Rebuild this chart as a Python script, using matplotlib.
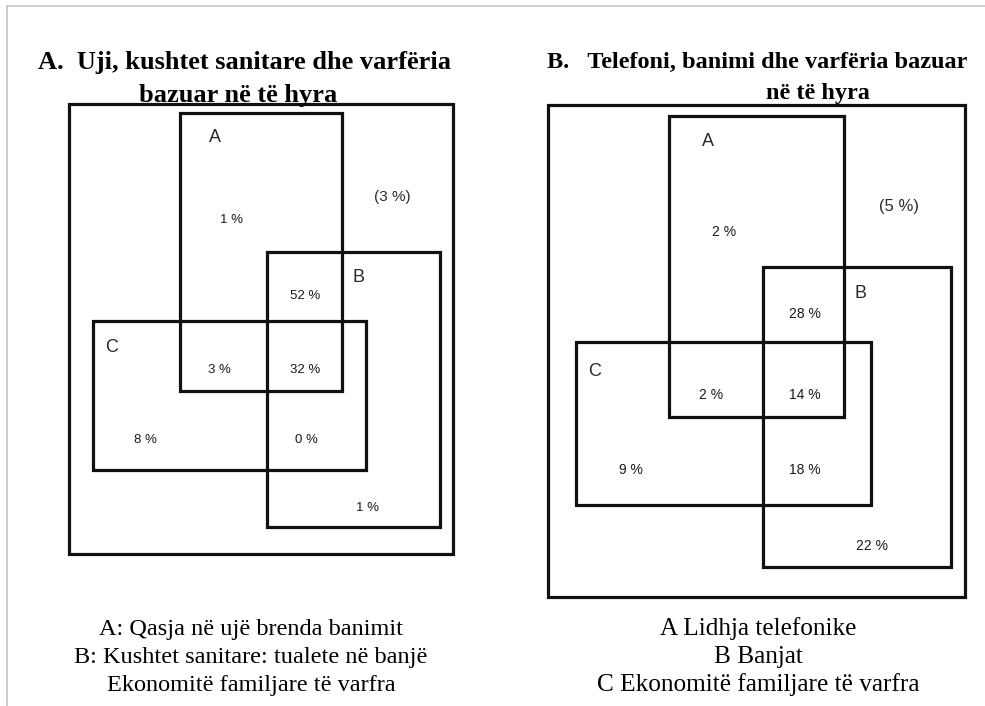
import matplotlib
matplotlib.use("Agg")
import matplotlib.pyplot as plt
from matplotlib.patches import Rectangle

# regions: A only, A&B, A&C, A&B&C, C only, B&C, B only, none of them
regions = ["A", "AB", "AC", "ABC", "C", "BC", "B", "none"]
pct_uji = [1, 52, 3, 32, 8, 0, 1, 3]
pct_tel = [2, 28, 2, 14, 9, 18, 22, 5]

titles_uji = ["A.  Uji, kushtet sanitare dhe varfëria", "bazuar në të hyra"]
titles_tel = ["B.   Telefoni, banimi dhe varfëria bazuar", "në të hyra"]

legend_uji = ["A: Qasja në ujë brenda banimit",
              "B: Kushtet sanitare: tualete në banjë",
              "Ekonomitë familjare të varfra"]
legend_tel = ["A Lidhja telefonike",
              "B Banjat",
              "C Ekonomitë familjare të varfra"]

# layout in pixels (x0, y0, x1, y1), top-left origin
panels = [
    dict(outer=(69, 104, 453, 554),
         boxes={"A": (180, 113, 342, 391), "B": (267, 252, 440, 527), "C": (93, 321, 366, 470)},
         letters={"A": (215, 137), "B": (358, 277), "C": (112, 348)},
         spots={"A": (232, 220), "AB": (305, 296), "AC": (219, 370), "ABC": (305, 370),
                "C": (145, 440), "BC": (306, 440), "B": (367, 508), "none": (392, 197)},
         pct=pct_uji, fs=9.5, fs_out=11,
         titles=titles_uji, title_pos=[(244, 69), (238, 102)], title_fs=19,
         legend=legend_uji, legend_x=251, legend_fs=17.5),
    dict(outer=(548, 105, 965, 597),
         boxes={"A": (669, 116, 844, 417), "B": (763, 267, 951, 567), "C": (576, 342, 871, 505)},
         letters={"A": (708, 142), "B": (861, 293), "C": (595, 372)},
         spots={"A": (724, 232), "AB": (805, 314), "AC": (711, 395), "ABC": (805, 395),
                "C": (631, 470), "BC": (805, 470), "B": (872, 546), "none": (899, 207)},
         pct=pct_tel, fs=10, fs_out=12,
         titles=titles_tel, title_pos=[(757, 68), (818, 99)], title_fs=17.5,
         legend=legend_tel, legend_x=758, legend_fs=18.2),
]
legend_baselines = [635, 663, 691]

fig = plt.figure(figsize=(9.85, 7.06), dpi=100)
ax = fig.add_axes([0, 0, 1, 1])
ax.set_xlim(0, 985)
ax.set_ylim(706, 0)
ax.axis("off")

# light page frame
ax.plot([7, 985], [6, 6], color="#c4c4c4", lw=1.2)
ax.plot([7, 7], [6, 706], color="#c4c4c4", lw=1.2)


def rect(r, lw=2.3):
    x0, y0, x1, y1 = r
    ax.add_patch(Rectangle((x0, y0), x1 - x0, y1 - y0, fill=False,
                           ec="#111111", lw=lw, joinstyle="miter"))


for p in panels:
    rect(p["outer"])
    for k, r in p["boxes"].items():
        rect(r)
    for k, (x, y) in p["letters"].items():
        ax.text(x, y, k, ha="center", va="center", fontsize=13,
                family="Liberation Sans", color="#2a2a2a")
    for reg, v in zip(regions, p["pct"]):
        x, y = p["spots"][reg]
        if reg == "none":
            ax.text(x, y, f"({v} %)", ha="center", va="center", fontsize=p["fs_out"],
                    family="Liberation Sans", color="#2a2a2a")
        else:
            ax.text(x, y, f"{v} %", ha="center", va="center", fontsize=p["fs"],
                    family="Liberation Sans", color="#1a1a1a")
    for t, (x, y) in zip(p["titles"], p["title_pos"]):
        ax.text(x, y, t, ha="center", va="baseline", fontsize=p["title_fs"],
                family="Liberation Serif", fontweight="bold", color="black")
    for t, y in zip(p["legend"], legend_baselines):
        ax.text(p["legend_x"], y, t, ha="center", va="baseline", fontsize=p["legend_fs"],
                family="Liberation Serif", color="black")

fig.savefig("out.png", dpi=100)
